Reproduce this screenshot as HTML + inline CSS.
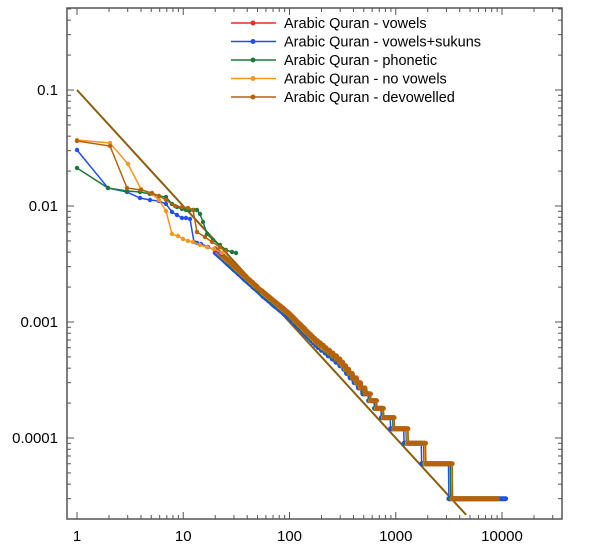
<!DOCTYPE html>
<html><head><meta charset="utf-8"><style>
html,body{margin:0;padding:0;background:#fff;}
svg{display:block;font-family:"Liberation Sans",sans-serif;}
</style></head><body>
<svg id="s" width="600" height="554" xmlns="http://www.w3.org/2000/svg"></svg>
<script>
const s=document.getElementById('s');
const X=r=>77+106.25*Math.log10(r);
const Y=f=>90-116*(Math.log10(f)+1);
let h='';
const L=67,R=562,T=8,B=519;
h+=`<rect x="${L}" y="${T}" width="${R-L}" height="${B-T}" fill="none" stroke="#555" stroke-width="1.5"/>`;
for(let d=0;d<=4;d++){for(let m=1;m<=9;m++){const x=X(m*Math.pow(10,d));if(x>R)continue;const len=m==1?7:4;
h+=`<line x1="${x}" y1="${B}" x2="${x}" y2="${B-len}" stroke="#555"/><line x1="${x}" y1="${T}" x2="${x}" y2="${T+len}" stroke="#555"/>`;}}
['1','10','100','1000','10000'].forEach((t,i)=>{h+=`<text x="${X(Math.pow(10,i))}" y="541" font-size="15" text-anchor="middle">${t}</text>`;});
for(let d=-5;d<=-1;d++){for(let m=1;m<=9;m++){const y=Y(m*Math.pow(10,d));if(y<T||y>B)continue;const len=m==1?7:4;
h+=`<line x1="${L}" y1="${y}" x2="${L+len}" y2="${y}" stroke="#555"/><line x1="${R}" y1="${y}" x2="${R-len}" y2="${y}" stroke="#555"/>`;}}
[['0.1',-1],['0.01',-2],['0.001',-3],['0.0001',-4]].forEach(([t,d])=>{h+=`<text x="58" y="${Y(Math.pow(10,d))+5}" font-size="15" text-anchor="end">${t}</text>`;});
h+=`<line x1="${X(1)}" y1="${Y(0.1)}" x2="${X(4600)}" y2="${Y(0.1/4600)}" stroke="#8b5e0a" stroke-width="2"/>`;
const N=33333;
const A=[[14.4,5.6e-3],[29.4,3.1e-3],[52.7,1.9e-3],[100,1.17e-3],[174,7.0e-4],[297,4.7e-4],[794,1.6e-4],[1300,1.05e-4],[1900,7.5e-5],[3400,4.5e-5],[20000,1e-5]];
function G(r){
  const lr=Math.log10(r);
  for(let i=0;i<A.length-1;i++){const a=Math.log10(A[i][0]),b=Math.log10(A[i+1][0]);
    if(lr<=b||i==A.length-2){const t=(lr-a)/(b-a);return Math.pow(10,Math.log10(A[i][1])+t*(Math.log10(A[i+1][1])-Math.log10(A[i][1])));}}
}
function tail(col,scale,rstart,rend,shift){
  let pts=[];
  for(let r=rstart;r<=rend;r=r<200?r+1:Math.ceil(r*1.01)){
    let g=scale*G(r/shift);
    let k=Math.max(1,Math.round(g*N));let f=k/N;
    pts.push([X(r),Y(f)]);
  }
  pts.push([X(rend),Y(1/N)]);
  let thick='',thin='';
  for(let i=1;i<pts.length;i++){const a=pts[i-1],b=pts[i];
    const seg=`M${a[0].toFixed(1)},${a[1].toFixed(1)}L${b[0].toFixed(1)},${b[1].toFixed(1)}`;
    if(Math.abs(b[1]-a[1])>6 && (b[0]-a[0])<3) thin+=seg; else thick+=seg;}
  return `<path d="${thin}" fill="none" stroke="${col}" stroke-width="1.5"/><path d="${thick}" fill="none" stroke="${col}" stroke-width="5" stroke-linejoin="round" stroke-linecap="round"/>`;
}
function head(col,pts){
  let d='M'+pts.map(p=>p.join(',')).join('L');
  let c=pts.map(p=>`<circle cx="${p[0]}" cy="${p[1]}" r="2.2" fill="${col}"/>`).join('');
  return `<path d="${d}" fill="none" stroke="${col}" stroke-width="1.5"/>`+c;
}
const blue='#1f4ff0',green='#1a7a3a',orange='#f5961e',brown='#b5620e',red='#e8301c';
h+=tail(blue,0.9,20,10800,1.04);
h+=tail(green,0.97,22,9200,1.0);
h+=tail(orange,1.0,20,9000,0.99);
h+=tail(brown,1.02,20,9000,0.98);
h+=head(blue,[[77,150],[108,188],[127,192],[140,198],[150,200],[159,201],[166,204],[172,212],[177,215],[182,218],[186,218],[190,219],[194,242],[197,243],[201,244],[208,247],[215,250],[222,254]]);
h+=head(green,[[77,168],[108,188],[127,191],[140,192],[150,194],[159,196],[166,197],[172,204],[177,207],[182,209],[186,210],[190,210],[194,210],[197,210],[200,214],[203,222],[207,234],[213,240],[220,245],[226,250],[232,252],[236,253]]);
h+=head(orange,[[77,140],[110,143],[128,164],[141,189],[152,194],[159,200],[166,211],[172,234],[178,236],[183,239],[188,241],[193,242],[200,245],[207,247],[214,249],[222,253]]);
h+=head(brown,[[77,141],[110,146],[127,188],[141,190],[152,193],[159,196],[166,200],[175,206],[182,207],[188,208],[193,210],[197,232],[205,237],[212,242],[220,247],[226,251]]);
const leg=[[red,'Arabic Quran - vowels'],[blue,'Arabic Quran - vowels+sukuns'],[green,'Arabic Quran - phonetic'],[orange,'Arabic Quran - no vowels'],[brown,'Arabic Quran - devowelled']];
leg.forEach(([c,t],i)=>{const y=23+i*18.5;
h+=`<line x1="231" y1="${y}" x2="276" y2="${y}" stroke="${c}" stroke-width="1.5"/><circle cx="253" cy="${y}" r="2.5" fill="${c}"/>`;
h+=`<text x="284" y="${y+5}" font-size="14.5">${t}</text>`;});
s.innerHTML=h;
</script>
</body></html>
